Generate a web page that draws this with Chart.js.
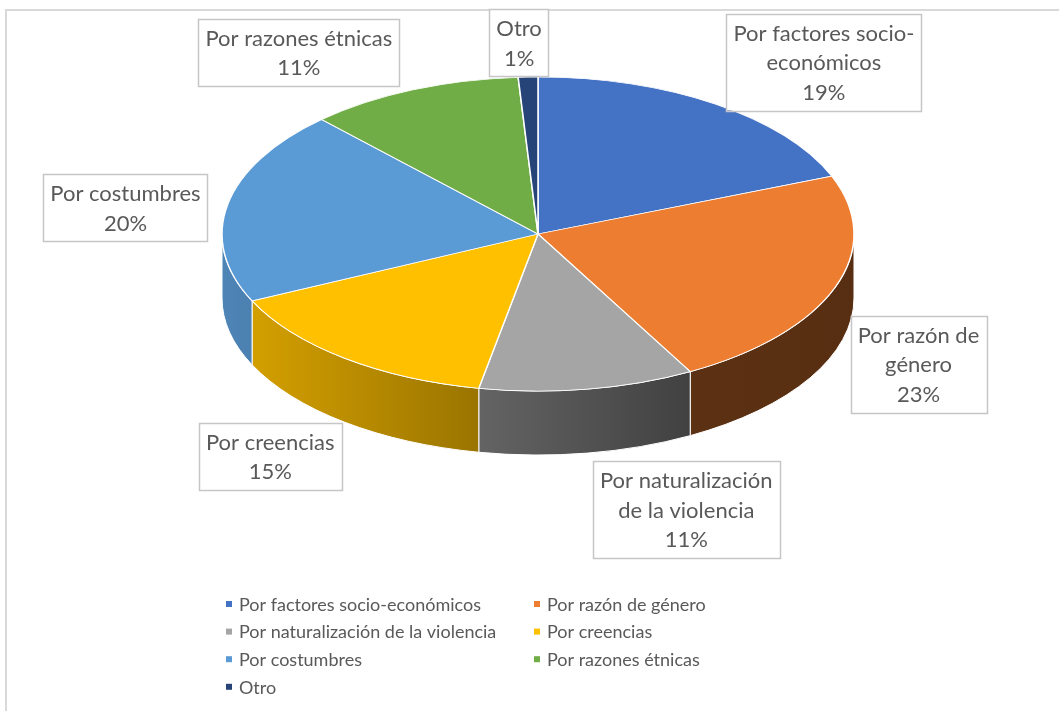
<!DOCTYPE html>
<html>
<head>
<meta charset="utf-8">
<script src="https://cdn.jsdelivr.net/npm/chart.js@4.4.1/dist/chart.umd.min.js"></script>
<style>
  html, body { margin: 0; padding: 0; background: #fff; }
  #wrap { width: 1059px; height: 711px; position: relative; }
</style>
</head>
<body>
<div id="wrap"><canvas id="pieChart" width="1059" height="711"></canvas></div>
<script>
// Data
const categories = [
  "Por factores socio-económicos",
  "Por razón de género",
  "Por naturalización de la violencia",
  "Por creencias",
  "Por costumbres",
  "Por razones étnicas",
  "Otro"
];
const percents = [19, 23, 11, 15, 20, 11, 1];
const sliceColors = ["#4472C4", "#ED7D31", "#A5A5A5", "#FFC000", "#5B9BD5", "#70AD47", "#264478"];
// how the data labels wrap in the boxes
const labelLines = [
  ["Por factores socio-", "económicos"],
  ["Por razón de", "género"],
  ["Por naturalización", "de la violencia"],
  ["Por creencias"],
  ["Por costumbres"],
  ["Por razones étnicas"],
  ["Otro"]
];

// look of the fake 3D pie
const tilt = 0.497;      // vertical squash of the top face
const depth = 64;        // thickness of the side wall (px)
const pieRadius = 316;
const textColor = "#595959";
const fontFamily = "Lato, 'Open Sans', sans-serif";
const labelFont = 22, legendFont = 18;
// nudge of each label box from its default spot (px)
const labelNudge = [[55, -3], [-6, -3], [84, 10], [-16, -3], [-9, 12], [-76, 6], [-6, 13]];

function shade(hex, f) {
  const n = parseInt(hex.slice(1), 16);
  const r = Math.round(((n >> 16) & 255) * f);
  const g = Math.round(((n >> 8) & 255) * f);
  const b = Math.round((n & 255) * f);
  return `rgb(${r},${g},${b})`;
}

// Frame lines (top and left edge of the Excel chart area)
const framePlugin = {
  id: "frame",
  beforeDraw(chart) {
    const ctx = chart.ctx;
    ctx.save();
    ctx.strokeStyle = "#d9d9d9";
    ctx.lineWidth = 2;
    ctx.beginPath();
    ctx.moveTo(6, chart.height);
    ctx.lineTo(6, 10);
    ctx.lineTo(chart.width, 10);
    ctx.stroke();
    ctx.restore();
  }
};

// Draw side walls, then squash the top face into an ellipse
const pie3dPlugin = {
  id: "pie3d",
  beforeDatasetsDraw(chart) {
    const ctx = chart.ctx;
    const arcs = chart.getDatasetMeta(0).data;
    const cx = arcs[0].x, cy = arcs[0].y, R = arcs[0].outerRadius, Ry = R * tilt;

    arcs.forEach((arc, i) => {
      const s = Math.max(arc.startAngle, 0);
      const e = Math.min(arc.endAngle, Math.PI);
      if (e <= s) return;
      const grad = ctx.createLinearGradient(cx - R, 0, cx + R, 0);
      grad.addColorStop(0, shade(sliceColors[i], 0.86));
      grad.addColorStop(0.75, shade(sliceColors[i], 0.39));
      grad.addColorStop(1, shade(sliceColors[i], 0.37));
      ctx.save();
      ctx.beginPath();
      ctx.ellipse(cx, cy, R, Ry, 0, s, e, false);
      ctx.ellipse(cx, cy + depth, R, Ry, 0, e, s, true);
      ctx.closePath();
      ctx.fillStyle = grad;
      ctx.fill();
      ctx.strokeStyle = "#ffffff";
      ctx.lineWidth = 1;
      ctx.stroke();
      ctx.restore();
    });

    ctx.save();
    ctx.translate(cx, cy);
    ctx.scale(1, tilt);
    ctx.translate(-cx, -cy);
  },
  afterDatasetsDraw(chart) {
    chart.ctx.restore();
  }
};

// Data labels in boxes + legend in two columns
const labelPlugin = {
  id: "boxLabels",
  afterDraw(chart) {
    const ctx = chart.ctx;
    const arcs = chart.getDatasetMeta(0).data;
    const cx = arcs[0].x, cy = arcs[0].y, R = arcs[0].outerRadius, Ry = R * tilt;
    ctx.save();
    ctx.font = `${labelFont}px ${fontFamily}`;
    ctx.textAlign = "center";
    ctx.textBaseline = "middle";
    const lineH = 29.5;
    arcs.forEach((arc, i) => {
      const mid = (arc.startAngle + arc.endAngle) / 2;
      const lines = labelLines[i].concat([percents[i] + "%"]);
      let px = cx + Math.cos(mid) * R * 1.3;
      let py = cy + Math.sin(mid) * Ry * 1.3 + (Math.sin(mid) > 0 ? depth : 0);
      px += labelNudge[i][0];
      py += labelNudge[i][1];
      const w = Math.max(...lines.map(l => ctx.measureText(l).width)) + 14;
      const h = lines.length * lineH + 8;
      ctx.fillStyle = "#ffffff";
      ctx.fillRect(px - w / 2, py - h / 2, w, h);
      ctx.strokeStyle = "#c6c6c6";
      ctx.lineWidth = 1.5;
      ctx.strokeRect(Math.round(px - w / 2) + 0.5, Math.round(py - h / 2) + 0.5, Math.round(w), Math.round(h));
      ctx.fillStyle = textColor;
      lines.forEach((l, k) => {
        ctx.fillText(l, px, py - h / 2 + 4 + lineH * (k + 0.5) + 1);
      });
    });

    // legend
    ctx.font = `${legendFont}px ${fontFamily}`;
    ctx.textAlign = "left";
    const colX = [226, 534];
    const rowY0 = 604, rowStep = 27.6;
    categories.forEach((name, i) => {
      const x = colX[i % 2];
      const y = rowY0 + Math.floor(i / 2) * rowStep;
      ctx.fillStyle = sliceColors[i];
      ctx.fillRect(x, y - 3, 6, 6);
      ctx.fillStyle = textColor;
      ctx.fillText(name, x + 13, y + 1);
    });
    ctx.restore();
  }
};

new Chart(document.getElementById("pieChart").getContext("2d"), {
  type: "pie",
  data: {
    labels: categories,
    datasets: [{
      data: percents,
      backgroundColor: sliceColors,
      borderColor: "#ffffff",
      borderWidth: 1.5
    }]
  },
  options: {
    responsive: false,
    animation: false,
    radius: pieRadius,
    layout: { padding: { left: 17, top: 0, right: 0, bottom: 711 - 2 * 234 } },
    plugins: {
      legend: { display: false },
      tooltip: { enabled: false }
    }
  },
  plugins: [framePlugin, pie3dPlugin, labelPlugin]
});
</script>
</body>
</html>
